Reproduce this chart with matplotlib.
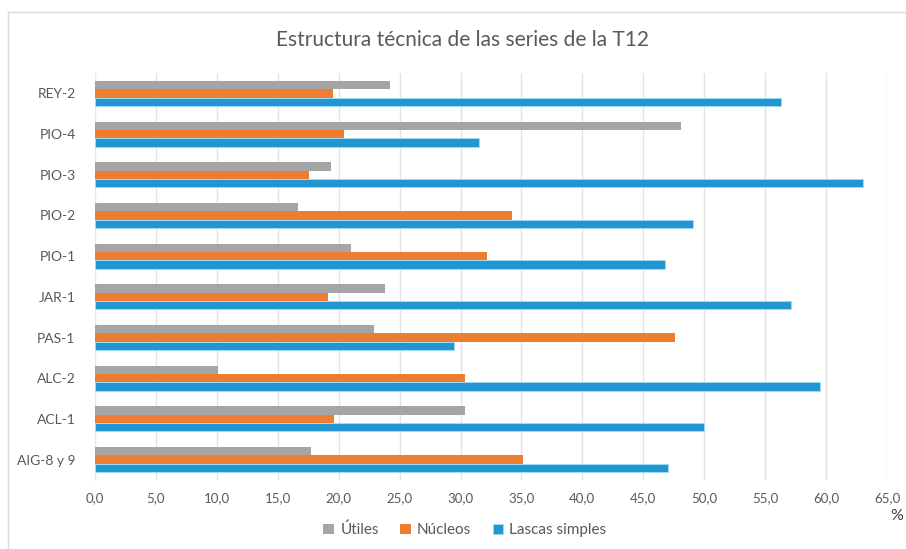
import matplotlib
matplotlib.use('Agg')
from matplotlib import pyplot as plt
from matplotlib.lines import Line2D
import numpy as np

plt.rcParams['font.family'] = ['Lato', 'DejaVu Sans']

sites = ['AIG-8 y 9', 'ACL-1', 'ALC-2', 'PAS-1', 'JAR-1',
         'PIO-1', 'PIO-2', 'PIO-3', 'PIO-4', 'REY-2']
utiles = [17.7, 30.4, 10.1, 22.9, 23.8, 21.0, 16.7, 19.4, 48.1, 24.2]
nucleos = [35.1, 19.6, 30.4, 47.6, 19.1, 32.2, 34.2, 17.6, 20.4, 19.5]
lascas = [47.0, 50.0, 59.5, 29.5, 57.1, 46.8, 49.1, 63.0, 31.5, 56.3]
xticks = np.arange(0, 65.1, 5)

fig = plt.figure(figsize=(9.06, 5.49), dpi=100)
ax = fig.add_axes([0.1049, 0.1257, 0.874, 0.7413])

y = np.arange(len(sites))
h = 0.204
ax.barh(y + h, utiles, height=h, color='#A5A5A5', label='Útiles', zorder=3)
ax.barh(y, nucleos, height=h, color='#ED7D31', label='Núcleos', zorder=3)
ax.barh(y - h, lascas, height=h, color='#2196D3', edgecolor='#9FE0F5',
        linewidth=0.6, label='Lascas simples', zorder=3)

ax.set_xlim(0, 65)
ax.set_ylim(-0.5, 9.5)
ax.set_xticks(xticks)
ax.set_xticklabels([f'{v:.1f}'.replace('.', ',') for v in xticks],
                   fontsize=9.5, color='#595959')
ax.set_yticks(y)
ax.set_yticklabels(sites, fontsize=10, color='#595959')
ax.tick_params(axis='both', length=0)
ax.tick_params(axis='x', pad=9)
ax.tick_params(axis='y', pad=14)
ax.grid(axis='x', color='#E3E3E3', linewidth=1, zorder=0)
for s in ['top', 'right', 'bottom']:
    ax.spines[s].set_visible(False)
ax.spines['left'].set_color('#D9EEF8')

fig.text(0.51, 0.927, 'Estructura técnica de las series de la T12',
         ha='center', va='center', fontsize=15, color='#595959')
fig.text(0.99, 0.06, '%', ha='center', va='center', fontsize=11.5,
         color='#404040')

ax.legend(loc='center', bbox_to_anchor=(465 / 906, 1 - 530 / 549),
          bbox_transform=fig.transFigure, ncol=3, frameon=False,
          fontsize=11, handlelength=0.7, handleheight=0.7,
          handletextpad=0.4, columnspacing=1.4, labelcolor='#595959')

# chart area frame (left and top edges visible)
fig.add_artist(Line2D([8 / 906, 8 / 906], [0, 1 - 12 / 549],
                      transform=fig.transFigure, color='#D9D9D9', lw=1))
fig.add_artist(Line2D([8 / 906, 1], [1 - 12 / 549, 1 - 12 / 549],
                      transform=fig.transFigure, color='#D9D9D9', lw=1))

fig.savefig('out.png', dpi=100)
